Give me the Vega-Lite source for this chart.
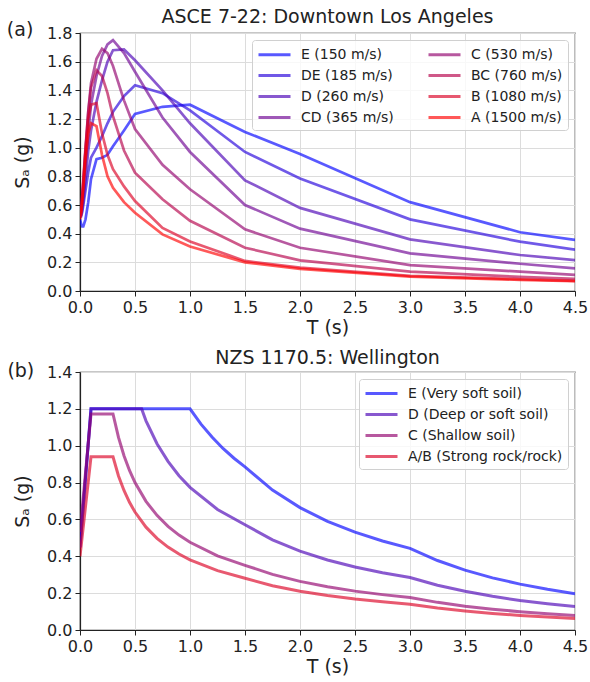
{
  "$schema": "https://vega.github.io/schema/vega-lite/v6.json",
  "background": "white",
  "padding": {"left": 6, "top": 7, "right": 5, "bottom": 3},
  "config": {
    "font": "DejaVu Sans",
    "view": {"stroke": "#222", "strokeWidth": 1.2},
    "axis": {"labelFont": "DejaVu Sans", "labelFontSize": 16, "labelColor": "#222", "titleFont": "DejaVu Sans", "titleFontSize": 19, "titleFontWeight": "normal", "titleColor": "#222", "domainColor": "#222", "domainWidth": 1.2, "tickColor": "#222", "tickSize": 5, "gridColor": "#dcdcdc", "gridWidth": 1, "labelPadding": 3, "labelOverlap": false, "labelFlush": false},
    "legend": {"labelFont": "DejaVu Sans", "labelFontSize": 14, "labelColor": "#222", "symbolType": "M-2,0H2", "symbolSize": 256, "symbolOffset": 8, "symbolStrokeWidth": 3, "symbolOpacity": 0.65, "fillColor": "rgba(255,255,255,0.8)", "strokeColor": "#d0d0d0", "cornerRadius": 3, "padding": 5, "rowPadding": 4, "columnPadding": 28, "labelOffset": 17, "labelLimit": 400},
    "title": {"font": "DejaVu Sans", "fontSize": 19, "fontWeight": "normal", "color": "#222", "offset": -6},
    "concat": {"spacing": 10}
  },
  "resolve": {"scale": {"x": "independent", "y": "independent", "color": "independent"}, "legend": {"color": "independent"}},
  "datasets": {
    "asce": [
      {"soil": "E (150 m/s)", "T": 0, "Sa": 0.50}, {"soil": "E (150 m/s)", "T": 0.01, "Sa": 0.47}, {"soil": "E (150 m/s)", "T": 0.02, "Sa": 0.45}, {"soil": "E (150 m/s)", "T": 0.03, "Sa": 0.45}, {"soil": "E (150 m/s)", "T": 0.05, "Sa": 0.50}, {"soil": "E (150 m/s)", "T": 0.075, "Sa": 0.62}, {"soil": "E (150 m/s)", "T": 0.1, "Sa": 0.78}, {"soil": "E (150 m/s)", "T": 0.15, "Sa": 0.92}, {"soil": "E (150 m/s)", "T": 0.2, "Sa": 0.93}, {"soil": "E (150 m/s)", "T": 0.25, "Sa": 0.95}, {"soil": "E (150 m/s)", "T": 0.3, "Sa": 1.01}, {"soil": "E (150 m/s)", "T": 0.4, "Sa": 1.12}, {"soil": "E (150 m/s)", "T": 0.5, "Sa": 1.235}, {"soil": "E (150 m/s)", "T": 0.75, "Sa": 1.285}, {"soil": "E (150 m/s)", "T": 1, "Sa": 1.30}, {"soil": "E (150 m/s)", "T": 1.5, "Sa": 1.11}, {"soil": "E (150 m/s)", "T": 2, "Sa": 0.955}, {"soil": "E (150 m/s)", "T": 3, "Sa": 0.62}, {"soil": "E (150 m/s)", "T": 4, "Sa": 0.41}, {"soil": "E (150 m/s)", "T": 4.5, "Sa": 0.356},
      {"soil": "DE (185 m/s)", "T": 0, "Sa": 0.52}, {"soil": "DE (185 m/s)", "T": 0.01, "Sa": 0.52}, {"soil": "DE (185 m/s)", "T": 0.02, "Sa": 0.55}, {"soil": "DE (185 m/s)", "T": 0.03, "Sa": 0.60}, {"soil": "DE (185 m/s)", "T": 0.05, "Sa": 0.70}, {"soil": "DE (185 m/s)", "T": 0.075, "Sa": 0.83}, {"soil": "DE (185 m/s)", "T": 0.1, "Sa": 0.93}, {"soil": "DE (185 m/s)", "T": 0.15, "Sa": 1.0}, {"soil": "DE (185 m/s)", "T": 0.2, "Sa": 1.08}, {"soil": "DE (185 m/s)", "T": 0.25, "Sa": 1.17}, {"soil": "DE (185 m/s)", "T": 0.3, "Sa": 1.25}, {"soil": "DE (185 m/s)", "T": 0.4, "Sa": 1.36}, {"soil": "DE (185 m/s)", "T": 0.5, "Sa": 1.435}, {"soil": "DE (185 m/s)", "T": 0.75, "Sa": 1.38}, {"soil": "DE (185 m/s)", "T": 1, "Sa": 1.26}, {"soil": "DE (185 m/s)", "T": 1.5, "Sa": 0.97}, {"soil": "DE (185 m/s)", "T": 2, "Sa": 0.785}, {"soil": "DE (185 m/s)", "T": 3, "Sa": 0.50}, {"soil": "DE (185 m/s)", "T": 4, "Sa": 0.344}, {"soil": "DE (185 m/s)", "T": 4.5, "Sa": 0.288},
      {"soil": "D (260 m/s)", "T": 0, "Sa": 0.52}, {"soil": "D (260 m/s)", "T": 0.01, "Sa": 0.53}, {"soil": "D (260 m/s)", "T": 0.02, "Sa": 0.57}, {"soil": "D (260 m/s)", "T": 0.03, "Sa": 0.63}, {"soil": "D (260 m/s)", "T": 0.05, "Sa": 0.78}, {"soil": "D (260 m/s)", "T": 0.075, "Sa": 0.98}, {"soil": "D (260 m/s)", "T": 0.1, "Sa": 1.12}, {"soil": "D (260 m/s)", "T": 0.15, "Sa": 1.32}, {"soil": "D (260 m/s)", "T": 0.2, "Sa": 1.47}, {"soil": "D (260 m/s)", "T": 0.25, "Sa": 1.60}, {"soil": "D (260 m/s)", "T": 0.3, "Sa": 1.68}, {"soil": "D (260 m/s)", "T": 0.4, "Sa": 1.685}, {"soil": "D (260 m/s)", "T": 0.5, "Sa": 1.61}, {"soil": "D (260 m/s)", "T": 0.75, "Sa": 1.40}, {"soil": "D (260 m/s)", "T": 1, "Sa": 1.17}, {"soil": "D (260 m/s)", "T": 1.5, "Sa": 0.772}, {"soil": "D (260 m/s)", "T": 2, "Sa": 0.58}, {"soil": "D (260 m/s)", "T": 3, "Sa": 0.36}, {"soil": "D (260 m/s)", "T": 4, "Sa": 0.251}, {"soil": "D (260 m/s)", "T": 4.5, "Sa": 0.216},
      {"soil": "CD (365 m/s)", "T": 0, "Sa": 0.55}, {"soil": "CD (365 m/s)", "T": 0.01, "Sa": 0.56}, {"soil": "CD (365 m/s)", "T": 0.02, "Sa": 0.62}, {"soil": "CD (365 m/s)", "T": 0.03, "Sa": 0.70}, {"soil": "CD (365 m/s)", "T": 0.05, "Sa": 0.88}, {"soil": "CD (365 m/s)", "T": 0.075, "Sa": 1.10}, {"soil": "CD (365 m/s)", "T": 0.1, "Sa": 1.30}, {"soil": "CD (365 m/s)", "T": 0.15, "Sa": 1.50}, {"soil": "CD (365 m/s)", "T": 0.2, "Sa": 1.64}, {"soil": "CD (365 m/s)", "T": 0.25, "Sa": 1.72}, {"soil": "CD (365 m/s)", "T": 0.3, "Sa": 1.75}, {"soil": "CD (365 m/s)", "T": 0.4, "Sa": 1.66}, {"soil": "CD (365 m/s)", "T": 0.5, "Sa": 1.53}, {"soil": "CD (365 m/s)", "T": 0.75, "Sa": 1.21}, {"soil": "CD (365 m/s)", "T": 1, "Sa": 0.97}, {"soil": "CD (365 m/s)", "T": 1.5, "Sa": 0.60}, {"soil": "CD (365 m/s)", "T": 2, "Sa": 0.435}, {"soil": "CD (365 m/s)", "T": 3, "Sa": 0.263}, {"soil": "CD (365 m/s)", "T": 4, "Sa": 0.19}, {"soil": "CD (365 m/s)", "T": 4.5, "Sa": 0.158},
      {"soil": "C (530 m/s)", "T": 0, "Sa": 0.56}, {"soil": "C (530 m/s)", "T": 0.01, "Sa": 0.58}, {"soil": "C (530 m/s)", "T": 0.02, "Sa": 0.66}, {"soil": "C (530 m/s)", "T": 0.03, "Sa": 0.76}, {"soil": "C (530 m/s)", "T": 0.05, "Sa": 0.98}, {"soil": "C (530 m/s)", "T": 0.075, "Sa": 1.25}, {"soil": "C (530 m/s)", "T": 0.1, "Sa": 1.45}, {"soil": "C (530 m/s)", "T": 0.15, "Sa": 1.62}, {"soil": "C (530 m/s)", "T": 0.2, "Sa": 1.69}, {"soil": "C (530 m/s)", "T": 0.25, "Sa": 1.66}, {"soil": "C (530 m/s)", "T": 0.3, "Sa": 1.57}, {"soil": "C (530 m/s)", "T": 0.4, "Sa": 1.33}, {"soil": "C (530 m/s)", "T": 0.5, "Sa": 1.13}, {"soil": "C (530 m/s)", "T": 0.75, "Sa": 0.88}, {"soil": "C (530 m/s)", "T": 1, "Sa": 0.71}, {"soil": "C (530 m/s)", "T": 1.5, "Sa": 0.43}, {"soil": "C (530 m/s)", "T": 2, "Sa": 0.302}, {"soil": "C (530 m/s)", "T": 3, "Sa": 0.181}, {"soil": "C (530 m/s)", "T": 4, "Sa": 0.135}, {"soil": "C (530 m/s)", "T": 4.5, "Sa": 0.112},
      {"soil": "BC (760 m/s)", "T": 0, "Sa": 0.55}, {"soil": "BC (760 m/s)", "T": 0.01, "Sa": 0.57}, {"soil": "BC (760 m/s)", "T": 0.02, "Sa": 0.66}, {"soil": "BC (760 m/s)", "T": 0.03, "Sa": 0.78}, {"soil": "BC (760 m/s)", "T": 0.05, "Sa": 1.0}, {"soil": "BC (760 m/s)", "T": 0.075, "Sa": 1.25}, {"soil": "BC (760 m/s)", "T": 0.1, "Sa": 1.42}, {"soil": "BC (760 m/s)", "T": 0.15, "Sa": 1.54}, {"soil": "BC (760 m/s)", "T": 0.2, "Sa": 1.50}, {"soil": "BC (760 m/s)", "T": 0.25, "Sa": 1.38}, {"soil": "BC (760 m/s)", "T": 0.3, "Sa": 1.22}, {"soil": "BC (760 m/s)", "T": 0.4, "Sa": 0.98}, {"soil": "BC (760 m/s)", "T": 0.5, "Sa": 0.826}, {"soil": "BC (760 m/s)", "T": 0.75, "Sa": 0.64}, {"soil": "BC (760 m/s)", "T": 1, "Sa": 0.49}, {"soil": "BC (760 m/s)", "T": 1.5, "Sa": 0.302}, {"soil": "BC (760 m/s)", "T": 2, "Sa": 0.214}, {"soil": "BC (760 m/s)", "T": 3, "Sa": 0.135}, {"soil": "BC (760 m/s)", "T": 4, "Sa": 0.098}, {"soil": "BC (760 m/s)", "T": 4.5, "Sa": 0.084},
      {"soil": "B (1080 m/s)", "T": 0, "Sa": 0.52}, {"soil": "B (1080 m/s)", "T": 0.01, "Sa": 0.55}, {"soil": "B (1080 m/s)", "T": 0.02, "Sa": 0.64}, {"soil": "B (1080 m/s)", "T": 0.03, "Sa": 0.75}, {"soil": "B (1080 m/s)", "T": 0.05, "Sa": 0.98}, {"soil": "B (1080 m/s)", "T": 0.075, "Sa": 1.20}, {"soil": "B (1080 m/s)", "T": 0.1, "Sa": 1.30}, {"soil": "B (1080 m/s)", "T": 0.15, "Sa": 1.31}, {"soil": "B (1080 m/s)", "T": 0.2, "Sa": 1.10}, {"soil": "B (1080 m/s)", "T": 0.25, "Sa": 0.95}, {"soil": "B (1080 m/s)", "T": 0.3, "Sa": 0.85}, {"soil": "B (1080 m/s)", "T": 0.4, "Sa": 0.73}, {"soil": "B (1080 m/s)", "T": 0.5, "Sa": 0.628}, {"soil": "B (1080 m/s)", "T": 0.75, "Sa": 0.44}, {"soil": "B (1080 m/s)", "T": 1, "Sa": 0.345}, {"soil": "B (1080 m/s)", "T": 1.5, "Sa": 0.21}, {"soil": "B (1080 m/s)", "T": 2, "Sa": 0.163}, {"soil": "B (1080 m/s)", "T": 3, "Sa": 0.105}, {"soil": "B (1080 m/s)", "T": 4, "Sa": 0.082}, {"soil": "B (1080 m/s)", "T": 4.5, "Sa": 0.07},
      {"soil": "A (1500 m/s)", "T": 0, "Sa": 0.50}, {"soil": "A (1500 m/s)", "T": 0.01, "Sa": 0.53}, {"soil": "A (1500 m/s)", "T": 0.02, "Sa": 0.62}, {"soil": "A (1500 m/s)", "T": 0.03, "Sa": 0.72}, {"soil": "A (1500 m/s)", "T": 0.05, "Sa": 0.92}, {"soil": "A (1500 m/s)", "T": 0.075, "Sa": 1.10}, {"soil": "A (1500 m/s)", "T": 0.1, "Sa": 1.17}, {"soil": "A (1500 m/s)", "T": 0.15, "Sa": 1.15}, {"soil": "A (1500 m/s)", "T": 0.2, "Sa": 0.95}, {"soil": "A (1500 m/s)", "T": 0.25, "Sa": 0.80}, {"soil": "A (1500 m/s)", "T": 0.3, "Sa": 0.72}, {"soil": "A (1500 m/s)", "T": 0.4, "Sa": 0.62}, {"soil": "A (1500 m/s)", "T": 0.5, "Sa": 0.546}, {"soil": "A (1500 m/s)", "T": 0.75, "Sa": 0.395}, {"soil": "A (1500 m/s)", "T": 1, "Sa": 0.31}, {"soil": "A (1500 m/s)", "T": 1.5, "Sa": 0.20}, {"soil": "A (1500 m/s)", "T": 2, "Sa": 0.155}, {"soil": "A (1500 m/s)", "T": 3, "Sa": 0.10}, {"soil": "A (1500 m/s)", "T": 4, "Sa": 0.078}, {"soil": "A (1500 m/s)", "T": 4.5, "Sa": 0.068}
    ],
    "nzs": [
      {"soil": "E (Very soft soil)", "T": 0, "Sa": 0.448}, {"soil": "E (Very soft soil)", "T": 0.1, "Sa": 1.2}, {"soil": "E (Very soft soil)", "T": 1.0, "Sa": 1.2}, {"soil": "E (Very soft soil)", "T": 1.1, "Sa": 1.117}, {"soil": "E (Very soft soil)", "T": 1.2, "Sa": 1.047}, {"soil": "E (Very soft soil)", "T": 1.3, "Sa": 0.985}, {"soil": "E (Very soft soil)", "T": 1.4, "Sa": 0.932}, {"soil": "E (Very soft soil)", "T": 1.5, "Sa": 0.885}, {"soil": "E (Very soft soil)", "T": 1.75, "Sa": 0.759}, {"soil": "E (Very soft soil)", "T": 2.0, "Sa": 0.664}, {"soil": "E (Very soft soil)", "T": 2.25, "Sa": 0.590}, {"soil": "E (Very soft soil)", "T": 2.5, "Sa": 0.531}, {"soil": "E (Very soft soil)", "T": 2.75, "Sa": 0.483}, {"soil": "E (Very soft soil)", "T": 3.0, "Sa": 0.443}, {"soil": "E (Very soft soil)", "T": 3.25, "Sa": 0.377}, {"soil": "E (Very soft soil)", "T": 3.5, "Sa": 0.325}, {"soil": "E (Very soft soil)", "T": 3.75, "Sa": 0.283}, {"soil": "E (Very soft soil)", "T": 4.0, "Sa": 0.249}, {"soil": "E (Very soft soil)", "T": 4.25, "Sa": 0.221}, {"soil": "E (Very soft soil)", "T": 4.5, "Sa": 0.197},
      {"soil": "D (Deep or soft soil)", "T": 0, "Sa": 0.448}, {"soil": "D (Deep or soft soil)", "T": 0.1, "Sa": 1.2}, {"soil": "D (Deep or soft soil)", "T": 0.56, "Sa": 1.2}, {"soil": "D (Deep or soft soil)", "T": 0.6, "Sa": 1.135}, {"soil": "D (Deep or soft soil)", "T": 0.7, "Sa": 1.011}, {"soil": "D (Deep or soft soil)", "T": 0.8, "Sa": 0.915}, {"soil": "D (Deep or soft soil)", "T": 0.9, "Sa": 0.837}, {"soil": "D (Deep or soft soil)", "T": 1.0, "Sa": 0.774}, {"soil": "D (Deep or soft soil)", "T": 1.25, "Sa": 0.654}, {"soil": "D (Deep or soft soil)", "T": 1.5, "Sa": 0.571}, {"soil": "D (Deep or soft soil)", "T": 1.75, "Sa": 0.489}, {"soil": "D (Deep or soft soil)", "T": 2.0, "Sa": 0.428}, {"soil": "D (Deep or soft soil)", "T": 2.25, "Sa": 0.380}, {"soil": "D (Deep or soft soil)", "T": 2.5, "Sa": 0.342}, {"soil": "D (Deep or soft soil)", "T": 2.75, "Sa": 0.311}, {"soil": "D (Deep or soft soil)", "T": 3.0, "Sa": 0.285}, {"soil": "D (Deep or soft soil)", "T": 3.25, "Sa": 0.243}, {"soil": "D (Deep or soft soil)", "T": 3.5, "Sa": 0.210}, {"soil": "D (Deep or soft soil)", "T": 3.75, "Sa": 0.183}, {"soil": "D (Deep or soft soil)", "T": 4.0, "Sa": 0.160}, {"soil": "D (Deep or soft soil)", "T": 4.25, "Sa": 0.142}, {"soil": "D (Deep or soft soil)", "T": 4.5, "Sa": 0.127},
      {"soil": "C (Shallow soil)", "T": 0, "Sa": 0.532}, {"soil": "C (Shallow soil)", "T": 0.1, "Sa": 1.172}, {"soil": "C (Shallow soil)", "T": 0.3, "Sa": 1.172}, {"soil": "C (Shallow soil)", "T": 0.35, "Sa": 1.045}, {"soil": "C (Shallow soil)", "T": 0.4, "Sa": 0.946}, {"soil": "C (Shallow soil)", "T": 0.45, "Sa": 0.866}, {"soil": "C (Shallow soil)", "T": 0.5, "Sa": 0.80}, {"soil": "C (Shallow soil)", "T": 0.6, "Sa": 0.698}, {"soil": "C (Shallow soil)", "T": 0.7, "Sa": 0.622}, {"soil": "C (Shallow soil)", "T": 0.8, "Sa": 0.562}, {"soil": "C (Shallow soil)", "T": 0.9, "Sa": 0.515}, {"soil": "C (Shallow soil)", "T": 1.0, "Sa": 0.476}, {"soil": "C (Shallow soil)", "T": 1.25, "Sa": 0.402}, {"soil": "C (Shallow soil)", "T": 1.5, "Sa": 0.351}, {"soil": "C (Shallow soil)", "T": 1.75, "Sa": 0.302}, {"soil": "C (Shallow soil)", "T": 2.0, "Sa": 0.264}, {"soil": "C (Shallow soil)", "T": 2.25, "Sa": 0.235}, {"soil": "C (Shallow soil)", "T": 2.5, "Sa": 0.211}, {"soil": "C (Shallow soil)", "T": 2.75, "Sa": 0.192}, {"soil": "C (Shallow soil)", "T": 3.0, "Sa": 0.176}, {"soil": "C (Shallow soil)", "T": 3.25, "Sa": 0.150}, {"soil": "C (Shallow soil)", "T": 3.5, "Sa": 0.129}, {"soil": "C (Shallow soil)", "T": 3.75, "Sa": 0.113}, {"soil": "C (Shallow soil)", "T": 4.0, "Sa": 0.099}, {"soil": "C (Shallow soil)", "T": 4.25, "Sa": 0.088}, {"soil": "C (Shallow soil)", "T": 4.5, "Sa": 0.078},
      {"soil": "A/B (Strong rock/rock)", "T": 0, "Sa": 0.40}, {"soil": "A/B (Strong rock/rock)", "T": 0.1, "Sa": 0.94}, {"soil": "A/B (Strong rock/rock)", "T": 0.3, "Sa": 0.94}, {"soil": "A/B (Strong rock/rock)", "T": 0.35, "Sa": 0.836}, {"soil": "A/B (Strong rock/rock)", "T": 0.4, "Sa": 0.757}, {"soil": "A/B (Strong rock/rock)", "T": 0.45, "Sa": 0.693}, {"soil": "A/B (Strong rock/rock)", "T": 0.5, "Sa": 0.64}, {"soil": "A/B (Strong rock/rock)", "T": 0.6, "Sa": 0.558}, {"soil": "A/B (Strong rock/rock)", "T": 0.7, "Sa": 0.497}, {"soil": "A/B (Strong rock/rock)", "T": 0.8, "Sa": 0.450}, {"soil": "A/B (Strong rock/rock)", "T": 0.9, "Sa": 0.412}, {"soil": "A/B (Strong rock/rock)", "T": 1.0, "Sa": 0.381}, {"soil": "A/B (Strong rock/rock)", "T": 1.25, "Sa": 0.322}, {"soil": "A/B (Strong rock/rock)", "T": 1.5, "Sa": 0.281}, {"soil": "A/B (Strong rock/rock)", "T": 1.75, "Sa": 0.240}, {"soil": "A/B (Strong rock/rock)", "T": 2.0, "Sa": 0.210}, {"soil": "A/B (Strong rock/rock)", "T": 2.25, "Sa": 0.187}, {"soil": "A/B (Strong rock/rock)", "T": 2.5, "Sa": 0.168}, {"soil": "A/B (Strong rock/rock)", "T": 2.75, "Sa": 0.153}, {"soil": "A/B (Strong rock/rock)", "T": 3.0, "Sa": 0.140}, {"soil": "A/B (Strong rock/rock)", "T": 3.25, "Sa": 0.119}, {"soil": "A/B (Strong rock/rock)", "T": 3.5, "Sa": 0.103}, {"soil": "A/B (Strong rock/rock)", "T": 3.75, "Sa": 0.090}, {"soil": "A/B (Strong rock/rock)", "T": 4.0, "Sa": 0.079}, {"soil": "A/B (Strong rock/rock)", "T": 4.25, "Sa": 0.070}, {"soil": "A/B (Strong rock/rock)", "T": 4.5, "Sa": 0.062}
    ]
  },
  "vconcat": [
    {
      "width": 495,
      "height": 258,
      "title": {"text": "ASCE 7-22: Downtown Los Angeles", "anchor": "middle"},
      "layer": [
        {
          "data": {"name": "asce"},
          "mark": {"type": "line", "strokeWidth": 2.7, "opacity": 0.65, "clip": true},
          "encoding": {
            "x": {"field": "T", "type": "quantitative", "scale": {"domain": [0, 4.5], "nice": false}, "axis": {"values": [0, 0.5, 1, 1.5, 2, 2.5, 3, 3.5, 4, 4.5], "format": ".1f", "title": "T (s)", "titlePadding": 3}},
            "y": {"field": "Sa", "type": "quantitative", "scale": {"domain": [0, 1.8], "nice": false}, "axis": {"values": [0, 0.2, 0.4, 0.6, 0.8, 1, 1.2, 1.4, 1.6, 1.8], "tickCount": 10, "format": ".1f", "title": "Sₐ (g)", "titlePadding": 14}},
            "color": {
              "field": "soil", "type": "nominal",
              "scale": {
                "domain": ["E (150 m/s)", "DE (185 m/s)", "D (260 m/s)", "CD (365 m/s)", "C (530 m/s)", "BC (760 m/s)", "B (1080 m/s)", "A (1500 m/s)"],
                "range": ["#0000ff", "#2400db", "#4900b6", "#6d0092", "#92006d", "#b60049", "#db0024", "#ff0000"]
              },
              "legend": {"title": null, "orient": "top-right", "offset": 7, "columns": 2}
            }
          }
        },
        {
          "data": {"values": [{"label": "(a)"}]},
          "mark": {"type": "text", "fontSize": 19, "align": "left", "baseline": "middle", "color": "#222"},
          "encoding": {
            "x": {"datum": -0.665, "type": "quantitative", "scale": {"domain": [0, 4.5], "nice": false}, "axis": {"values": [0, 0.5, 1, 1.5, 2, 2.5, 3, 3.5, 4, 4.5], "format": ".1f", "title": "T (s)", "titlePadding": 3}},
            "y": {"datum": 1.82, "type": "quantitative", "scale": {"domain": [0, 1.8], "nice": false}, "axis": {"values": [0, 0.2, 0.4, 0.6, 0.8, 1, 1.2, 1.4, 1.6, 1.8], "tickCount": 10, "format": ".1f", "title": "Sₐ (g)", "titlePadding": 14}},
            "text": {"field": "label"}
          }
        }
      ]
    },
    {
      "width": 495,
      "height": 258,
      "title": {"text": "NZS 1170.5: Wellington", "anchor": "middle"},
      "layer": [
        {
          "data": {"name": "nzs"},
          "mark": {"type": "line", "strokeWidth": 3, "opacity": 0.65, "clip": true},
          "encoding": {
            "x": {"field": "T", "type": "quantitative", "scale": {"domain": [0, 4.5], "nice": false}, "axis": {"values": [0, 0.5, 1, 1.5, 2, 2.5, 3, 3.5, 4, 4.5], "format": ".1f", "title": "T (s)", "titlePadding": 3}},
            "y": {"field": "Sa", "type": "quantitative", "scale": {"domain": [0, 1.4], "nice": false}, "axis": {"values": [0, 0.2, 0.4, 0.6, 0.8, 1, 1.2, 1.4], "tickCount": 8, "format": ".1f", "title": "Sₐ (g)", "titlePadding": 14}},
            "color": {
              "field": "soil", "type": "nominal",
              "scale": {
                "domain": ["E (Very soft soil)", "D (Deep or soft soil)", "C (Shallow soil)", "A/B (Strong rock/rock)"],
                "range": ["#0000ff", "#4900b6", "#92006d", "#db0024"]
              },
              "legend": {"title": null, "orient": "top-right", "offset": 7}
            }
          }
        },
        {
          "data": {"values": [{"label": "(b)"}]},
          "mark": {"type": "text", "fontSize": 19, "align": "left", "baseline": "middle", "color": "#222"},
          "encoding": {
            "x": {"datum": -0.66, "type": "quantitative", "scale": {"domain": [0, 4.5], "nice": false}, "axis": {"values": [0, 0.5, 1, 1.5, 2, 2.5, 3, 3.5, 4, 4.5], "format": ".1f", "title": "T (s)", "titlePadding": 3}},
            "y": {"datum": 1.403, "type": "quantitative", "scale": {"domain": [0, 1.4], "nice": false}, "axis": {"values": [0, 0.2, 0.4, 0.6, 0.8, 1, 1.2, 1.4], "tickCount": 8, "format": ".1f", "title": "Sₐ (g)", "titlePadding": 14}},
            "text": {"field": "label"}
          }
        }
      ]
    }
  ]
}
